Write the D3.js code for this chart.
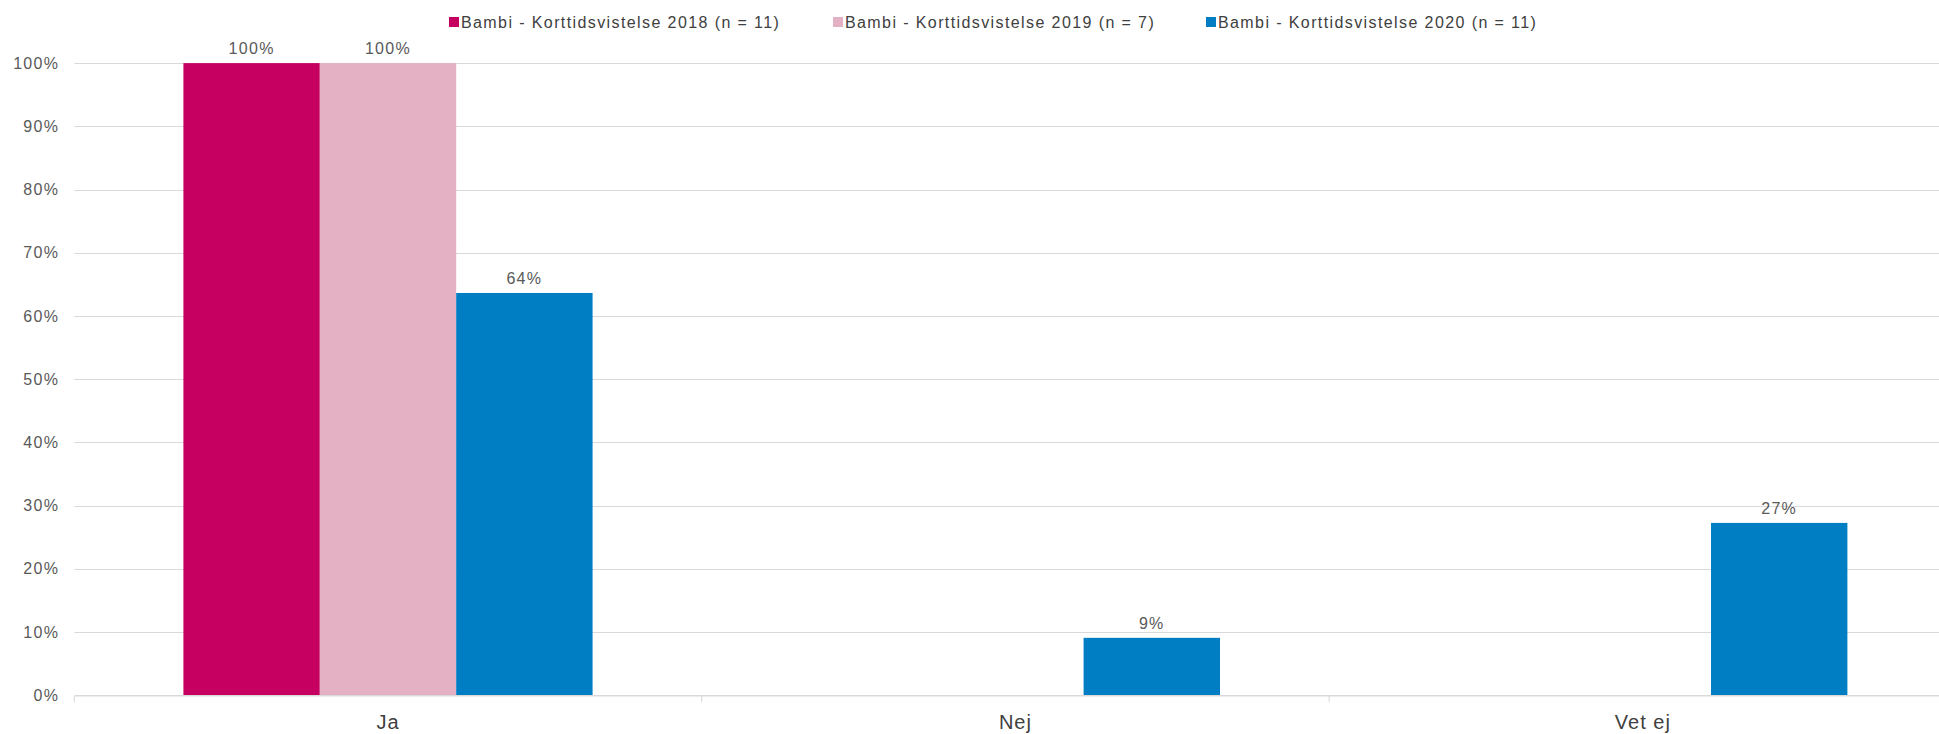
<!DOCTYPE html>
<html>
<head>
<meta charset="utf-8">
<script src="https://cdn.jsdelivr.net/npm/d3@7"></script>
<style>
  html, body { margin: 0; padding: 0; background: #fff; overflow: hidden; }
  svg { display: block; font-family: "Liberation Sans", Arial, sans-serif; }
</style>
</head>
<body>
<svg id="chart" width="1939" height="734"></svg>
<script>
const categories = ["Ja", "Nej", "Vet ej"];
const seriesNames = [
  "Bambi - Korttidsvistelse 2018 (n = 11)",
  "Bambi - Korttidsvistelse 2019 (n = 7)",
  "Bambi - Korttidsvistelse 2020 (n = 11)"
];
const values2018 = [1.00, 0.00, 0.00];
const values2019 = [1.00, 0.00, 0.00];
const values2020 = [0.6364, 0.0909, 0.2727];
const seriesColors = ["#C50061", "#E3B1C3", "#007EC4"];
const yTicks = [0, 0.1, 0.2, 0.3, 0.4, 0.5, 0.6, 0.7, 0.8, 0.9, 1.0];

const seriesValues = [values2018, values2019, values2020];
const data = categories.map((c, i) => ({
  category: c,
  values: seriesNames.map((s, j) => ({ series: s, idx: j, value: seriesValues[j][i] }))
}));

const svg = d3.select("#chart");
const x0 = d3.scaleBand().domain(categories).range([74.3, 1956.5]).padding(0);
const x1 = d3.scaleBand().domain(seriesNames).range([0, x0.bandwidth()]).paddingInner(0).paddingOuter(0.8);
const y = d3.scaleLinear().domain([0, 1]).range([695.3, 63.1]);
const pct = d3.format(".0%");

// gridlines
svg.append("g")
  .selectAll("line")
  .data(yTicks.filter(t => t > 0))
  .join("line")
  .attr("x1", x0.range()[0]).attr("x2", x0.range()[1])
  .attr("y1", d => Math.round(y(d)) + 0.5).attr("y2", d => Math.round(y(d)) + 0.5)
  .attr("stroke", "#d9d9d9").attr("stroke-width", 1);

// y axis labels
const yAxis = d3.axisLeft(y).tickValues(yTicks).tickFormat(pct).tickSize(0).tickPadding(15);
const gy = svg.append("g").attr("transform", `translate(${x0.range()[0]},0)`).call(yAxis);
gy.select(".domain").remove();
gy.selectAll("text")
  .attr("fill", "#595959").attr("font-size", 16).attr("letter-spacing", "1.3px")
  .attr("font-family", "'Liberation Sans', Arial, sans-serif");

// bars
const groups = svg.append("g").selectAll("g")
  .data(data).join("g")
  .attr("transform", d => `translate(${x0(d.category)},0)`);

groups.selectAll("rect")
  .data(d => d.values)
  .join("rect")
  .attr("x", d => x1(d.series))
  .attr("width", x1.bandwidth())
  .attr("y", d => y(d.value))
  .attr("height", d => y(0) - y(d.value))
  .attr("fill", d => seriesColors[d.idx]);

groups.selectAll("text")
  .data(d => d.values.filter(v => v.value > 0))
  .join("text")
  .attr("x", d => x1(d.series) + x1.bandwidth() / 2)
  .attr("y", d => y(d.value) - 9)
  .attr("text-anchor", "middle")
  .attr("fill", "#595959").attr("font-size", 16).attr("letter-spacing", "1.3px")
  .text(d => pct(d.value));

// x axis
const xAxis = d3.axisBottom(x0).tickSize(0).tickPadding(20);
const gx = svg.append("g").attr("transform", `translate(0,${y(0)})`).call(xAxis);
gx.select(".domain").attr("stroke", "#d9d9d9").attr("stroke-width", 1.5);
gx.selectAll("text")
  .attr("fill", "#404040").attr("font-size", 20).attr("letter-spacing", "1px")
  .attr("font-family", "'Liberation Sans', Arial, sans-serif");
// category separator ticks
svg.append("g").selectAll("line")
  .data(categories)
  .join("line")
  .attr("x1", d => x0(d)).attr("x2", d => x0(d))
  .attr("y1", y(0)).attr("y2", y(0) + 7)
  .attr("stroke", "#d9d9d9").attr("stroke-width", 1);

// legend
const legendX = [449, 833, 1206];
const legend = svg.append("g").selectAll("g")
  .data(seriesNames).join("g")
  .attr("transform", (d, i) => `translate(${legendX[i]},22)`);
legend.append("rect")
  .attr("x", 0).attr("y", -5).attr("width", 10).attr("height", 10)
  .attr("fill", (d, i) => seriesColors[i]);
legend.append("text")
  .attr("x", 12).attr("y", 0).attr("dy", "0.35em")
  .attr("fill", "#404040").attr("font-size", 16).attr("letter-spacing", "1.4px")
  .text(d => d);
</script>
</body>
</html>
